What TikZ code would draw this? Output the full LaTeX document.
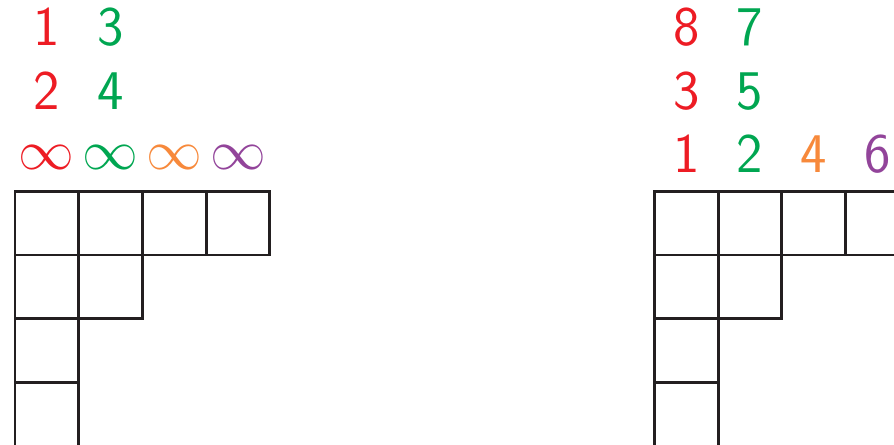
\documentclass[tikz,border=0pt]{standalone}
\usepackage{amsmath,amssymb}
\usepackage{xcolor}
\usetikzlibrary{positioning}
\definecolor{ink}{HTML}{231F20}
\definecolor{tabred}{HTML}{ED1C24}
\definecolor{tabgreen}{HTML}{00A651}
\definecolor{taborange}{HTML}{F7893B}
\definecolor{tabpurple}{HTML}{92449A}
\tikzset{
  cell/.style={draw=ink,line width=1.3pt},
  entry/.style={font=\sffamily\fontsize{25}{29}\selectfont,inner sep=0pt,
                text height=0.66em,text depth=0pt,anchor=base},
  infty/.style={font=\fontsize{25}{29}\selectfont,inner sep=0pt}
}

\begin{document}
\begin{tikzpicture}[x=1cm,y=1cm]
    \clip (-0.235,-3.98) rectangle (13.79,3.0);

    % the two diagrams, shape (4,2,1,1)
    \foreach \ox in {0,10.03}{
      \foreach \cx/\cy in {0/0,1/0,2/0,3/0,0/1,1/1,0/2,0/3}{
        \draw[cell] (\ox+\cx,-\cy) rectangle ++(1,-1);
      }
    }

    % left: columns with infinity at the bottom
    \node[entry,color=tabred] (l11) at (0.5,2.29) {1};
    \node[entry,color=tabred] (l12) at (0.5,1.29) {2};
    \node[entry,color=tabgreen] (l21) at (1.5,2.29) {3};
    \node[entry,color=tabgreen] (l22) at (1.5,1.29) {4};
    \foreach \cx/\col in {0/tabred,1/tabgreen,2/taborange,3/tabpurple}{
      \node[infty,color=\col] (linf\cx) at (\cx+0.5,0.53) {\(\infty\)};
    }

    % right: filled columns
    \foreach \cx/\cy/\lab/\col in {0/2/8/tabred,0/1/3/tabred,0/0/1/tabred,
        1/2/7/tabgreen,1/1/5/tabgreen,1/0/2/tabgreen,
        2/0/4/taborange,3/0/6/tabpurple}{
      \node[entry,color=\col] (r\cx\cy) at (10.53+\cx,\cy+0.29) {\lab};
    }
  \end{tikzpicture}
\end{document}
